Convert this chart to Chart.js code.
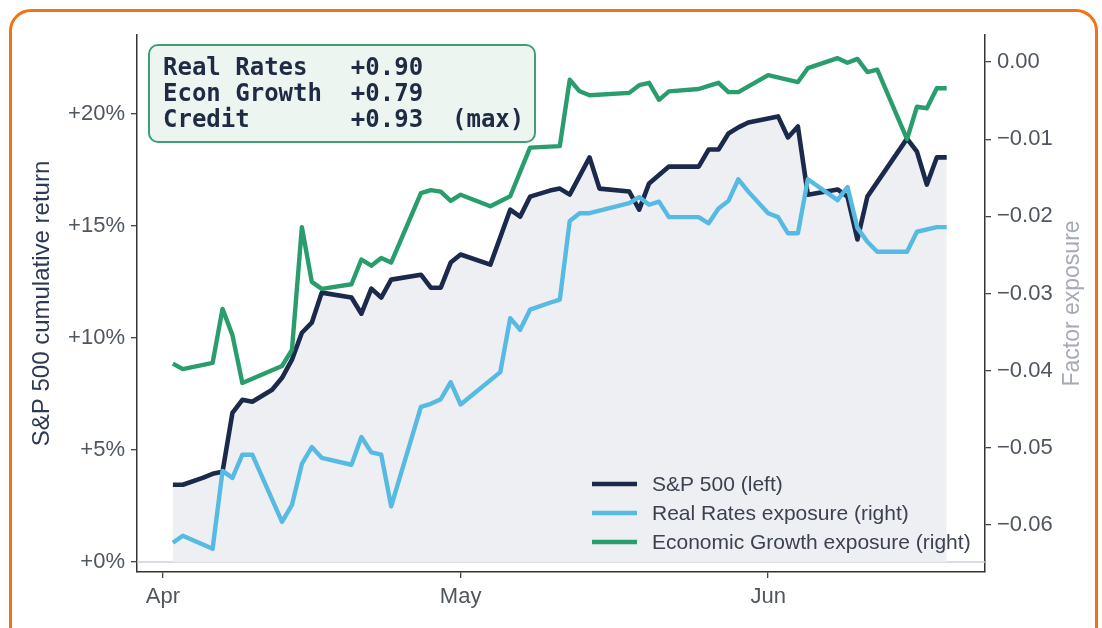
<!DOCTYPE html>
<html>
<head>
<meta charset="utf-8">
<script src="https://cdn.jsdelivr.net/npm/chart.js@4.4.1/dist/chart.umd.min.js"></script>
<style>
  html, body { margin: 0; padding: 0; background: #fff; overflow: hidden; }
  #wrap { position: relative; width: 1102px; height: 628px; }
  #frame {
    position: absolute; left: 9px; top: 9px; width: 1089px; height: 700px;
    box-sizing: border-box; border: 3px solid #f47216; border-radius: 22px;
    pointer-events: none;
  }
</style>
</head>
<body>
<div id="wrap">
  <canvas id="chart"></canvas>
  <div id="frame"></div>
</div>
<script>
// --- data (dates are MM-DD) ---
const spDates = ['04-02','04-03','04-05','04-06','04-07','04-08','04-09','04-10','04-12','04-13',
  '04-14','04-15','04-16','04-17','04-20','04-21','04-22','04-23','04-24','04-27','04-28','04-29',
  '04-30','05-01','05-04','05-06','05-07','05-08','05-10','05-11','05-12','05-14','05-15','05-18',
  '05-19','05-20','05-22','05-25','05-26','05-27','05-28','05-29','05-30','06-02','06-03','06-04',
  '06-05','06-08','06-09','06-10','06-11','06-15','06-16','06-17','06-18','06-19'];
const spReturn = [3.44, 3.44, 3.75, 3.93, 4.02, 6.65, 7.23, 7.14, 7.68, 8.21,
  9.02, 10.22, 10.67, 12.01, 11.79, 11.07, 12.19, 11.79, 12.59, 12.81, 12.23, 12.23,
  13.35, 13.71, 13.26, 15.71, 15.40, 16.29, 16.56, 16.65, 16.38, 18.04, 16.65, 16.52,
  15.71, 16.88, 17.63, 17.63, 18.39, 18.39, 19.11, 19.38, 19.60, 19.87, 18.93, 19.42,
  16.38, 16.61, 16.29, 14.38, 16.29, 18.88, 18.30, 16.83, 18.04, 18.04];

const rateDates = ['04-02','04-03','04-06','04-07','04-08','04-09','04-10','04-13','04-14','04-15',
  '04-16','04-17','04-20','04-21','04-22','04-23','04-24','04-27','04-28','04-29','04-30','05-01',
  '05-05','05-06','05-07','05-08','05-10','05-11','05-12','05-13','05-14','05-18','05-19','05-20',
  '05-21','05-22','05-25','05-26','05-27','05-28','05-29','05-30','06-01','06-02','06-03','06-04',
  '06-05','06-08','06-09','06-10','06-11','06-12','06-15','06-16','06-18','06-19'];
const rateExposure = [-0.0623, -0.0614, -0.0631, -0.0530, -0.0539, -0.0509, -0.0509, -0.0596, -0.0574, -0.0521,
  -0.0499, -0.0513, -0.0522, -0.0486, -0.0506, -0.0509, -0.0576, -0.0447, -0.0443, -0.0437, -0.0415, -0.0444,
  -0.0402, -0.0332, -0.0347, -0.0321, -0.0312, -0.0308, -0.0206, -0.0196, -0.0196, -0.0183, -0.0175, -0.0185,
  -0.0181, -0.0201, -0.0201, -0.0209, -0.0190, -0.0180, -0.0152, -0.0168, -0.0196, -0.0201, -0.0222, -0.0222,
  -0.0152, -0.0179, -0.0162, -0.0215, -0.0233, -0.0246, -0.0246, -0.0220, -0.0214, -0.0214];

const growthDates = ['04-02','04-03','04-06','04-07','04-08','04-09','04-13','04-14','04-15','04-16',
  '04-17','04-20','04-21','04-22','04-23','04-24','04-27','04-28','04-29','04-30','05-01','05-04',
  '05-06','05-08','05-11','05-12','05-13','05-14','05-18','05-19','05-20','05-21','05-22','05-25',
  '05-26','05-27','05-28','05-29','06-01','06-04','06-05','06-08','06-09','06-10','06-11','06-12',
  '06-15','06-16','06-17','06-18','06-19'];
const growthExposure = [-0.0391, -0.0398, -0.0390, -0.0320, -0.0354, -0.0416, -0.0394, -0.0373, -0.0214, -0.0285,
  -0.0294, -0.0288, -0.0256, -0.0264, -0.0254, -0.0260, -0.0170, -0.0166, -0.0168, -0.0180, -0.0172, -0.0187,
  -0.0174, -0.0111, -0.0109, -0.0023, -0.0038, -0.0043, -0.0040, -0.0030, -0.0027, -0.0049, -0.0038, -0.0035,
  -0.0031, -0.0027, -0.0039, -0.0039, -0.0017, -0.0026, -0.0008, 0.0005, -0.0001, 0.0004, -0.0013, -0.0010,
  -0.0100, -0.0058, -0.0060, -0.0034, -0.0034];

const seriesLabels = ['S&P 500 (left)', 'Real Rates exposure (right)', 'Economic Growth exposure (right)'];

const factorNames = ['Real Rates', 'Econ Growth', 'Credit'];
const factorCorr = [0.90, 0.79, 0.93];

const xTickDates = ['04-01', '05-01', '06-01'];
const xTickLabels = ['Apr', 'May', 'Jun'];
const leftTicks = [0, 5, 10, 15, 20];
const rightTicks = [0, -0.01, -0.02, -0.03, -0.04, -0.05, -0.06];

// --- helpers ---
const monthStart = { '04': 0, '05': 30, '06': 61 };
function dayOf(s) {
    const [m, d] = s.split('-');
    return monthStart[m] + Number(d) - 1;
}
const toPoints = (dates, vals) => dates.map((d, i) => ({ x: dayOf(d), y: vals[i] }));

const NAVY = '#1b2a4b';
const SKY = '#56bae3';
const GREEN = '#2a9d6c';
const SANS = "'Liberation Sans', Arial, sans-serif";

// zero line, legend, text box, axis titles
const decorations = {
    id: 'decorations',
    beforeDatasetsDraw(chart) {
        const { ctx, chartArea, scales } = chart;
        const y0 = scales.y.getPixelForValue(0);
        ctx.save();
        ctx.strokeStyle = '#cdd1d8';
        ctx.lineWidth = 1.5;
        ctx.beginPath();
        ctx.moveTo(chartArea.left, y0);
        ctx.lineTo(chartArea.right, y0);
        ctx.stroke();
        ctx.restore();
    },
    afterDraw(chart) {
        const { ctx, chartArea } = chart;
        const dpr = chart.currentDevicePixelRatio;
        ctx.save();

        // axis titles
        const midY = (chartArea.top + chartArea.bottom) / 2;
        ctx.textAlign = 'center';
        ctx.textBaseline = 'middle';
        ctx.font = `24px ${SANS}`;
        ctx.fillStyle = '#2c3a56';
        ctx.translate(42, midY);
        ctx.rotate(-Math.PI / 2);
        ctx.fillText('S&P 500 cumulative return', 0, 0);
        ctx.setTransform(dpr, 0, 0, dpr, 0, 0);
        ctx.font = `23px ${SANS}`;
        ctx.fillStyle = '#a6aab4';
        ctx.translate(1073, midY);
        ctx.rotate(-Math.PI / 2);
        ctx.fillText('Factor exposure', 0, 0);
        ctx.setTransform(dpr, 0, 0, dpr, 0, 0);

        // correlation box
        ctx.beginPath();
        ctx.roundRect(149, 45, 386, 97, 9);
        ctx.fillStyle = 'rgba(236, 244, 240, 0.95)';
        ctx.fill();
        ctx.lineWidth = 2;
        ctx.strokeStyle = '#3f9f74';
        ctx.stroke();
        const maxCorr = Math.max(...factorCorr);
        ctx.font = "bold 24px 'DejaVu Sans Mono', monospace";
        ctx.textAlign = 'left';
        ctx.textBaseline = 'alphabetic';
        ctx.fillStyle = '#1e2b45';
        factorNames.forEach((name, i) => {
            let line = name.padEnd(13) + '+' + factorCorr[i].toFixed(2);
            if (factorCorr[i] === maxCorr) line += '  (max)';
            ctx.fillText(line, 163, 75 + i * 26);
        });

        // legend
        const colors = [NAVY, SKY, GREEN];
        ctx.font = `21px ${SANS}`;
        ctx.textBaseline = 'middle';
        seriesLabels.forEach((label, i) => {
            const y = 484 + i * 29;
            ctx.strokeStyle = colors[i];
            ctx.lineWidth = 4.5;
            ctx.beginPath();
            ctx.moveTo(592, y);
            ctx.lineTo(637, y);
            ctx.stroke();
            ctx.fillStyle = '#3c4150';
            ctx.fillText(label, 652, y + 1);
        });
        ctx.restore();
    }
};

const axisGrid = { display: true, drawOnChartArea: false, drawTicks: true, tickLength: 6, color: '#444', lineWidth: 1.3 };
const axisBorder = { display: true, color: '#333', width: 1.5 };
const tickStyle = { font: { family: SANS, size: 22 }, color: '#50565f', padding: 6 };

new Chart(document.getElementById('chart'), {
    type: 'line',
    data: {
        datasets: [
            {
                label: seriesLabels[0], data: toPoints(spDates, spReturn), yAxisID: 'y',
                borderColor: NAVY, borderWidth: 4.6, fill: 'origin', backgroundColor: '#edeff3', order: 3
            },
            {
                label: seriesLabels[1], data: toPoints(rateDates, rateExposure), yAxisID: 'y1',
                borderColor: SKY, borderWidth: 4.4, fill: false, order: 2
            },
            {
                label: seriesLabels[2], data: toPoints(growthDates, growthExposure), yAxisID: 'y1',
                borderColor: GREEN, borderWidth: 4.4, fill: false, order: 1
            }
        ]
    },
    options: {
        responsive: true,
        maintainAspectRatio: false,
        animation: false,
        layout: { padding: { top: 35, left: 0, right: 0, bottom: 0 } },
        elements: {
            point: { radius: 0, hoverRadius: 0 },
            line: { tension: 0, borderJoinStyle: 'round', borderCapStyle: 'butt' }
        },
        plugins: { legend: { display: false }, tooltip: { enabled: false } },
        scales: {
            x: {
                type: 'linear', position: 'bottom', min: -2.62, max: 82.86,
                grid: axisGrid, border: axisBorder,
                ticks: { ...tickStyle, maxRotation: 0, autoSkip: false,
                    callback: (v, i) => xTickLabels[i] },
                afterBuildTicks: s => { s.ticks = xTickDates.map(d => ({ value: dayOf(d) })); },
                afterFit: s => { s.height = 56; }
            },
            y: {
                type: 'linear', position: 'left', min: -0.45, max: 23.5,
                grid: axisGrid, border: axisBorder,
                ticks: { ...tickStyle, callback: v => '+' + v + '%' },
                afterBuildTicks: s => { s.ticks = leftTicks.map(v => ({ value: v })); },
                afterFit: s => { s.width = 137; }
            },
            y1: {
                type: 'linear', position: 'right', min: -0.0661, max: 0.0035,
                grid: axisGrid, border: axisBorder,
                ticks: { ...tickStyle, callback: v => (v < 0 ? '\u2212' : '') + Math.abs(v).toFixed(2) },
                afterBuildTicks: s => { s.ticks = rightTicks.map(v => ({ value: v })); },
                afterFit: s => { s.width = 117; }
            }
        }
    },
    plugins: [decorations]
});
</script>
</body>
</html>
